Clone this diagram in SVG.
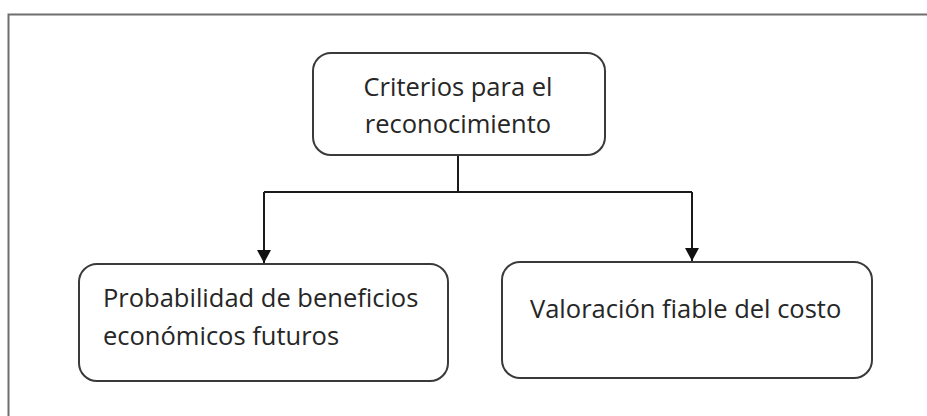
<svg xmlns="http://www.w3.org/2000/svg" width="927" height="416" viewBox="0 0 927 416">
<defs>
<style>
.box{fill:#fff;stroke:#3a3a3a;stroke-width:2}
.t{font-family:"Open Sans","Liberation Sans",sans-serif;font-size:25.5px;fill:#262626}
.ln{fill:none;stroke:#1a1a1a;stroke-width:2}
</style>
<marker id="ah" markerWidth="13" markerHeight="14" refX="13" refY="7" orient="auto" markerUnits="userSpaceOnUse">
<path d="M0,0 L13,7 L0,14 Z" fill="#111"/>
</marker>
</defs>
<rect width="927" height="416" fill="#fff"/>
<g id="frame">
<path d="M8.5,416 V14.5 H927" fill="none" stroke="#6e6e6e" stroke-width="2"/>
</g>
<g id="connectors">
<path class="ln" d="M458,155 V192"/>
<path class="ln" d="M264,192 H692"/>
<path class="ln" d="M264,192 V263" marker-end="url(#ah)"/>
<path class="ln" d="M692,192 V261" marker-end="url(#ah)"/>
</g>
<g id="n-criterios">
<rect class="box" x="313" y="53" width="292" height="102" rx="18"/>
<text class="t" x="458" y="96" text-anchor="middle">Criterios para el</text>
<text class="t" x="458" y="133" text-anchor="middle">reconocimiento</text>
</g>
<g id="n-probabilidad">
<rect class="box" x="79" y="264" width="369" height="117" rx="18"/>
<text class="t" x="103" y="307">Probabilidad de beneficios</text>
<text class="t" x="103" y="345">económicos futuros</text>
</g>
<g id="n-valoracion">
<rect class="box" x="502" y="262" width="370" height="116" rx="18"/>
<text class="t" x="530" y="318">Valoración fiable del costo</text>
</g>
</svg>
